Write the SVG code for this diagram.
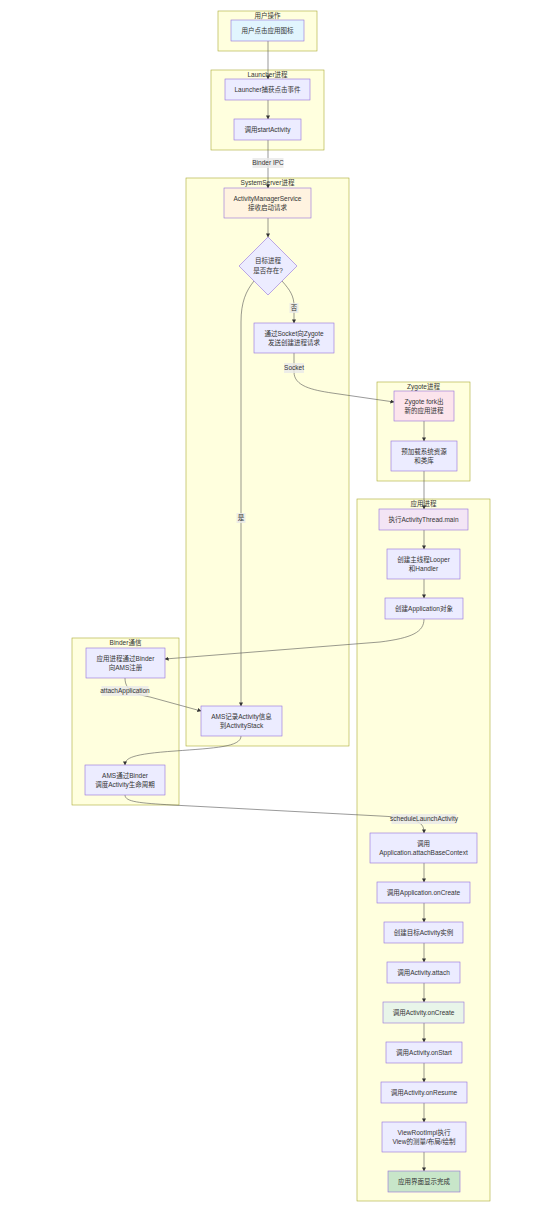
<svg xmlns="http://www.w3.org/2000/svg" width="550" height="1216" viewBox="0 0 550 1216">
<style>
.bg{fill:#ffffff}
.c{fill:#ffffde;stroke:#aaaa33;stroke-width:0.6}
.n{fill:#ECECFF;stroke:#9370DB;stroke-width:0.6}
.t{font-family:"Liberation Sans","Noto Sans CJK SC",sans-serif;font-size:6.5px;fill:#333333;text-anchor:middle}
.e{fill:none;stroke:#555555;stroke-width:0.6}
.lb{fill:#e8e8e8;fill-opacity:0.8}
</style>
<defs>
<marker id="ah" viewBox="0 0 10 10" refX="9" refY="5" markerWidth="4" markerHeight="4" markerUnits="userSpaceOnUse" orient="auto">
<path d="M0,0 L10,5 L0,10 z" fill="#333333"/>
</marker>
</defs>
<rect class="bg" x="0" y="0" width="550" height="1216"/>

<g id="clusters">
<g id="cluster-user"><rect class="c" x="218" y="11" width="99" height="40"/><text class="t" x="267.5" y="17.5">用户操作</text></g>
<g id="cluster-launcher"><rect class="c" x="211" y="70" width="113" height="80"/><text class="t" x="267.5" y="76.5">Launcher进程</text></g>
<g id="cluster-systemserver"><rect class="c" x="186" y="178" width="163" height="568"/><text class="t" x="267.5" y="184.5">SystemServer进程</text></g>
<g id="cluster-zygote"><rect class="c" x="377" y="382" width="93" height="99"/><text class="t" x="423.5" y="388.5">Zygote进程</text></g>
<g id="cluster-app"><rect class="c" x="357" y="499" width="133" height="702"/><text class="t" x="423.5" y="505.5">应用进程</text></g>
<g id="cluster-binder"><rect class="c" x="72" y="638" width="107" height="167"/><text class="t" x="125.5" y="644.5">Binder通信</text></g>
</g>

<g id="connectors">
<path class="e" d="M268,41 L268,79" marker-end="url(#ah)"/>
<path class="e" d="M268,100 L268,119" marker-end="url(#ah)"/>
<path class="e" d="M268,140 L268,188" marker-end="url(#ah)"/>
<path class="e" d="M268,218 L268,237" marker-end="url(#ah)"/>
<path class="e" d="M282,281 C290,290 294,296 294,306 L294,323" marker-end="url(#ah)"/>
<path class="e" d="M254,281 C246,291 241,302 241,322 L241,706" marker-end="url(#ah)"/>
<path class="e" d="M294,353 L294,372 C294,386 312,390 332,393 L394,402" marker-end="url(#ah)"/>
<path class="e" d="M424,421 L424,441" marker-end="url(#ah)"/>
<path class="e" d="M424,471 L424,509" marker-end="url(#ah)"/>
<path class="e" d="M424,530 L424,549" marker-end="url(#ah)"/>
<path class="e" d="M424,579 L424,598" marker-end="url(#ah)"/>
<path class="e" d="M424,619 C424,632 412,638 380,642 L165,659" marker-end="url(#ah)"/>
<path class="e" d="M125,678 C125,690 134,694 150,697 L201,711" marker-end="url(#ah)"/>
<path class="e" d="M241,736 C241,747 215,748 175,751 C132,754 125,758 125,765" marker-end="url(#ah)"/>
<path class="e" d="M125,795 C125,802 140,803 172,805 L380,816 C420,818 424,823 424,833" marker-end="url(#ah)"/>
<path class="e" d="M424,863 L424,882" marker-end="url(#ah)"/>
<path class="e" d="M424,903 L424,922" marker-end="url(#ah)"/>
<path class="e" d="M424,943 L424,962" marker-end="url(#ah)"/>
<path class="e" d="M424,983 L424,1002" marker-end="url(#ah)"/>
<path class="e" d="M424,1023 L424,1042" marker-end="url(#ah)"/>
<path class="e" d="M424,1063 L424,1082" marker-end="url(#ah)"/>
<path class="e" d="M424,1103 L424,1122" marker-end="url(#ah)"/>
<path class="e" d="M424,1152 L424,1171" marker-end="url(#ah)"/>
<g id="edge-labels">
<rect class="lb" x="252.5" y="158" width="31" height="10"/><text class="t" x="268" y="165.3">Binder IPC</text>
<rect class="lb" x="289.5" y="303" width="9" height="10"/><text class="t" x="294" y="310.3">否</text>
<rect class="lb" x="236.5" y="513" width="9" height="10"/><text class="t" x="241" y="520.3">是</text>
<rect class="lb" x="284" y="363" width="20" height="10"/><text class="t" x="294" y="370.3">Socket</text>
<rect class="lb" x="101.5" y="686" width="47" height="10"/><text class="t" x="125" y="693.3">attachApplication</text>
<rect class="lb" x="391.5" y="814" width="65" height="10"/><text class="t" x="424" y="821.3">scheduleLaunchActivity</text>
</g>
</g>

<g id="n-user"><rect class="n" x="231" y="20" width="73" height="21" style="fill:#e1f5fe"/><text class="t" x="267.5" y="32.8">用户点击应用图标</text></g>
<g id="n-launcher"><rect class="n" x="225" y="79" width="85" height="21"/><text class="t" x="267.5" y="91.8">Launcher捕获点击事件</text></g>
<g id="n-start"><rect class="n" x="234" y="119" width="67" height="21"/><text class="t" x="267.5" y="131.8">调用startActivity</text></g>
<g id="n-ams"><rect class="n" x="224" y="188" width="87" height="30" style="fill:#fff3e0"/><text class="t" x="267.5" y="200.8">ActivityManagerService</text><text class="t" x="267.5" y="209.8">接收启动请求</text></g>
<g id="n-decision"><path class="n" d="M268,237 L297,266 L268,295 L239,266 z"/><text class="t" x="268" y="263.3">目标进程</text><text class="t" x="268" y="273.3">是否存在?</text></g>
<g id="n-socket"><rect class="n" x="254" y="323" width="80" height="30"/><text class="t" x="294" y="335.8">通过Socket向Zygote</text><text class="t" x="294" y="344.8">发送创建进程请求</text></g>
<g id="n-fork"><rect class="n" x="394" y="391" width="60" height="30" style="fill:#fce4ec"/><text class="t" x="424" y="403.8">Zygote fork出</text><text class="t" x="424" y="412.8">新的应用进程</text></g>
<g id="n-preload"><rect class="n" x="391" y="441" width="66" height="30"/><text class="t" x="424" y="453.8">预加载系统资源</text><text class="t" x="424" y="462.8">和类库</text></g>
<g id="n-main"><rect class="n" x="379" y="509" width="89" height="21" style="fill:#f3e5f5"/><text class="t" x="423.5" y="521.8">执行ActivityThread.main</text></g>
<g id="n-looper"><rect class="n" x="387" y="549" width="73" height="30"/><text class="t" x="423.5" y="561.8">创建主线程Looper</text><text class="t" x="423.5" y="570.8">和Handler</text></g>
<g id="n-appobj"><rect class="n" x="385" y="598" width="78" height="21"/><text class="t" x="424" y="610.8">创建Application对象</text></g>
<g id="n-register"><rect class="n" x="86" y="648" width="79" height="30"/><text class="t" x="125.5" y="660.8">应用进程通过Binder</text><text class="t" x="125.5" y="669.8">向AMS注册</text></g>
<g id="n-record"><rect class="n" x="201" y="706" width="81" height="30"/><text class="t" x="241.5" y="718.8">AMS记录Activity信息</text><text class="t" x="241.5" y="727.8">到ActivityStack</text></g>
<g id="n-schedule"><rect class="n" x="85" y="765" width="80" height="30"/><text class="t" x="125" y="777.8">AMS通过Binder</text><text class="t" x="125" y="786.8">调度Activity生命周期</text></g>
<g id="n-attachbase"><rect class="n" x="370" y="833" width="107" height="30"/><text class="t" x="423.5" y="845.8">调用</text><text class="t" x="423.5" y="854.8">Application.attachBaseContext</text></g>
<g id="n-appcreate"><rect class="n" x="377" y="882" width="93" height="21"/><text class="t" x="423.5" y="894.8">调用Application.onCreate</text></g>
<g id="n-newact"><rect class="n" x="384" y="922" width="79" height="21"/><text class="t" x="423.5" y="934.8">创建目标Activity实例</text></g>
<g id="n-attach"><rect class="n" x="387" y="962" width="73" height="21"/><text class="t" x="423.5" y="974.8">调用Activity.attach</text></g>
<g id="n-oncreate"><rect class="n" x="383" y="1002" width="81" height="21" style="fill:#e8f5e9"/><text class="t" x="423.5" y="1014.8">调用Activity.onCreate</text></g>
<g id="n-onstart"><rect class="n" x="386" y="1042" width="76" height="21"/><text class="t" x="424" y="1054.8">调用Activity.onStart</text></g>
<g id="n-onresume"><rect class="n" x="381" y="1082" width="86" height="21"/><text class="t" x="424" y="1094.8">调用Activity.onResume</text></g>
<g id="n-viewroot"><rect class="n" x="382" y="1122" width="84" height="30"/><text class="t" x="424" y="1134.8">ViewRootImpl执行</text><text class="t" x="424" y="1143.8">View的测量/布局/绘制</text></g>
<g id="n-done"><rect class="n" x="388" y="1171" width="72" height="21" style="fill:#c8e6c9"/><text class="t" x="424" y="1183.8">应用界面显示完成</text></g>
</svg>
